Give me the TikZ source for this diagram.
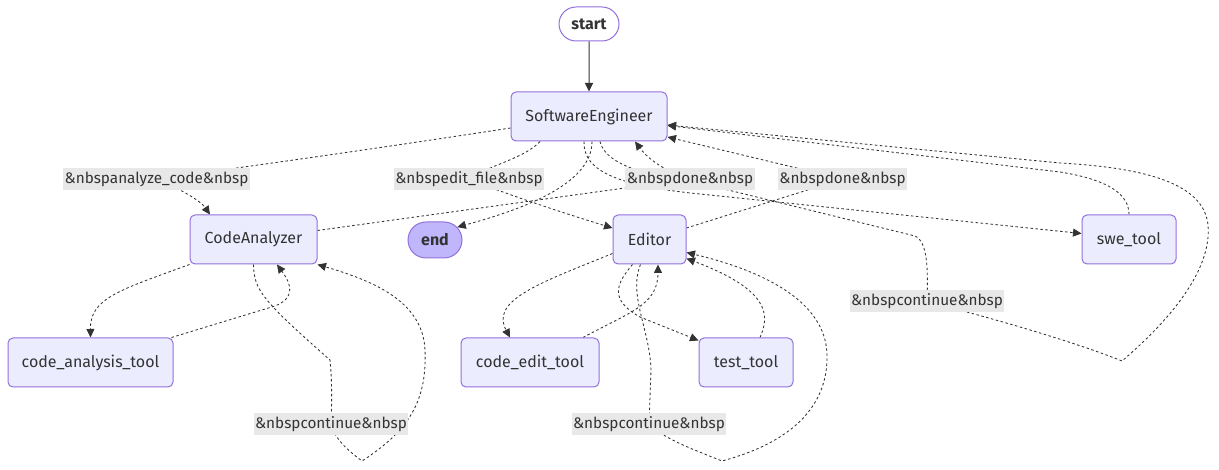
\documentclass[tikz,border=0pt]{standalone}
\usepackage{fontspec}
\setmainfont{Fira Sans}
\usetikzlibrary{shapes.misc,arrows.meta,calc}
\definecolor{nfill}{HTML}{ECECFF}
\definecolor{nline}{HTML}{9370DB}
\definecolor{efill}{HTML}{BFB6FC}
\definecolor{tcol}{HTML}{333333}
\definecolor{lbg}{HTML}{E8E8E8}
\pgfdeclarelayer{bg}
\pgfsetlayers{bg,main}
\begin{document}
\begin{tikzpicture}[x=1pt,y=-1pt,
  box/.style={rectangle, rounded corners=5pt, draw=nline, line width=1pt, fill=nfill, text=tcol, minimum height=49pt, font=\fontsize{16}{19}\selectfont, inner sep=0pt},
  pill/.style={rounded rectangle, draw=nline, line width=1pt, fill=white, text=tcol, font=\bfseries\fontsize{16}{19}\selectfont, minimum height=34pt, inner sep=0pt},
  lbl/.style={fill=lbg, text=tcol, font=\fontsize{15.3}{18}\selectfont, inner sep=1.5pt, minimum height=22pt},
  edge/.style={draw=tcol, line width=0.85pt, dash pattern=on 2.5pt off 2.5pt, -{Triangle[length=8.5pt,width=8pt]}},
  solidedge/.style={draw=tcol, line width=1pt, -{Triangle[length=8.5pt,width=8pt]}}]
\useasboundingbox (0,0) rectangle (1219,470);
% nodes
\node[pill, minimum width=60pt] (start) at (589,24) {start};
\node[box, minimum width=156pt] (SE) at (589,116.5) {SoftwareEngineer};
\node[box, minimum width=127pt] (CA) at (253.5,239.5) {CodeAnalyzer};
\node[pill, fill=efill, minimum width=54pt, minimum height=36pt] (end) at (435,240) {end};
\node[box, minimum width=73pt] (Ed) at (649.5,239.5) {Editor};
\node[box, minimum width=94pt] (swe) at (1129,239.5) {swe\_tool};
\node[box, minimum width=165pt] (cat) at (90.5,362.5) {code\_analysis\_tool};
\node[box, minimum width=138pt] (cet) at (530,362.5) {code\_edit\_tool};
\node[box, minimum width=94pt] (tt) at (746,362.5) {test\_tool};
% labels
\node[lbl] (an) at (156.5,179) {\&nbspanalyze\_code\&nbsp};
\node[lbl] (ef) at (469,179) {\&nbspedit\_file\&nbsp};
\node[lbl] (dn1) at (690,179) {\&nbspdone\&nbsp};
\node[lbl] (dn2) at (842.5,179) {\&nbspdone\&nbsp};
\node[lbl] (cs) at (927,301.5) {\&nbspcontinue\&nbsp};
\node[lbl] (cc) at (331,424) {\&nbspcontinue\&nbsp};
\node[lbl] (ce) at (649,424) {\&nbspcontinue\&nbsp};
\begin{pgfonlayer}{bg}
\fill[white] (0,0) rectangle (1219,470);
\draw[solidedge] (start) -- (SE);
% analyze_code
\draw[edge] ([yshift=-11.5pt]SE.west) .. controls (380,148) and (260,165) .. (an.center) .. controls (178,188) and (200,200) .. ([xshift=-43.5pt]CA.north);
% edit_file
\draw[edge] ([xshift=-49pt]SE.south) .. controls (525,158) and (490,165) .. (ef.center) .. controls (500,192) and (560,212) .. ([yshift=11.5pt]Ed.west);
% SE -> end
\draw[edge] ([xshift=3pt]SE.south) .. controls (592,185) and (520,210) .. (end.30);
% SE -> swe_tool
\draw[edge] ([xshift=-5pt]SE.south) .. controls (583,172) and (620,186) .. (700,194) -- ([yshift=6pt]swe.west);
% SE continue loop
\draw[edge] ([xshift=11pt]SE.south) .. controls (605,165) and (650,178) .. (720,188) -- (915,236) .. controls (928,242) and (928,270) .. (cs.center) .. controls (980,315) and (1070,340) .. (1122,361) .. controls (1170,320) and (1212,270) .. (1208,225) .. controls (1204,185) and (1150,168) .. (1060,163) -- ([yshift=-8.5pt]SE.east);
% swe_tool -> SE
\draw[edge] (swe.north) .. controls (1129,195) and (1110,180) .. (1060,172) -- ([yshift=-9pt]SE.east);
% CA -> code_analysis_tool
\draw[edge] (CA.south west) .. controls (120,290) and (90,298) .. (cat.north);
% code_analysis_tool -> CA
\draw[edge] ([xshift=-2pt]cat.north east) -- (275,306) .. controls (295,298) and (292,285) .. ([xshift=23.5pt]CA.south);
% CA continue
\draw[edge] (CA.south) .. controls (254,290) and (262,300) .. (330,360) .. controls (332,380) and (332,400) .. (cc.center) .. controls (335,440) and (350,452) .. (362,461) .. controls (410,430) and (427,400) .. (425,350) .. controls (423,300) and (370,280) .. (CA.south east);
% CA -> SE done
\draw[edge] ([yshift=9pt]CA.east) -- (dn1.center) .. controls (660,170) and (645,155) .. ([xshift=46pt]SE.south);
% Editor -> SE done
\draw[edge] ([yshift=11.5pt]Ed.east) -- (dn2.center) -- ([yshift=-20.5pt]SE.east);
% Editor -> code_edit_tool
\draw[edge] ([yshift=-14pt]Ed.west) .. controls (540,283) and (490,300) .. ([xshift=-20pt]cet.north);
% code_edit_tool -> Editor
\draw[edge] ([xshift=53pt]cet.north) .. controls (630,312) and (658,305) .. ([xshift=8.5pt]Ed.south);
% Editor -> test_tool
\draw[edge] ([xshift=-17pt]Ed.south) .. controls (615,285) and (610,300) .. (640,317) -- ([yshift=-3pt]tt.north west);
% test_tool -> Editor
\draw[edge] ([xshift=14pt]tt.north) .. controls (770,315) and (770,290) .. ([yshift=-19pt]Ed.east);
% Editor continue
\draw[edge] ([xshift=-9pt]Ed.south) .. controls (628,295) and (650,330) .. (651,370) -- (ce.center) .. controls (665,440) and (700,452) .. (722,461) .. controls (800,440) and (828,400) .. (827,355) .. controls (826,300) and (760,270) .. ([yshift=-13pt]Ed.east);
\end{pgfonlayer}
\end{tikzpicture}
\end{document}
